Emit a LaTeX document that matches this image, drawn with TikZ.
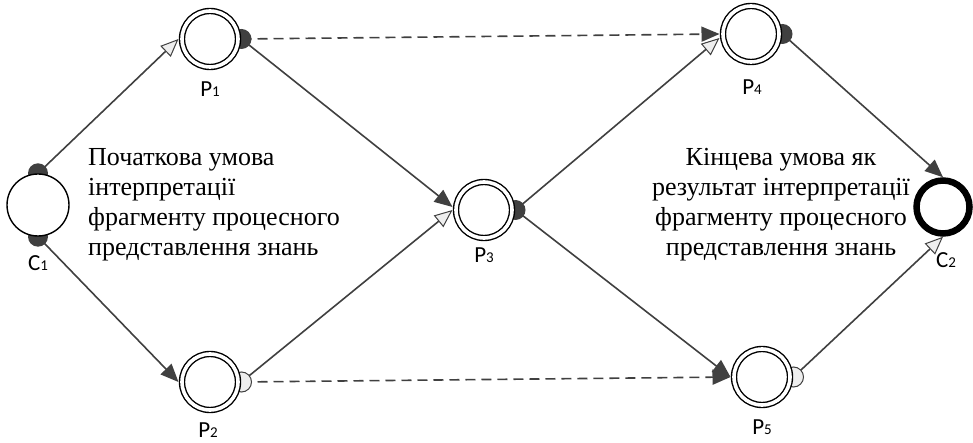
\documentclass[tikz,border=0pt]{standalone}
\usepackage{fontspec}
\setmainfont{Liberation Serif}
\newfontfamily\labfont{Carlito}
\usetikzlibrary{arrows.meta,backgrounds}
\definecolor{dk}{HTML}{404040}
\definecolor{lt}{HTML}{EEEEEE}
\newcommand\lsub[1]{{\fontsize{15}{15}\selectfont #1}}
\begin{document}
\begin{tikzpicture}[x=1pt,y=-1pt,
  place/.style={circle,draw=black,line width=1.4pt,double=white,double distance=3.6pt,minimum size=56pt,inner sep=0pt,outer sep=3.5pt,fill=white},
  cond/.style={circle,draw=black,line width=1.4pt,minimum size=62pt,inner sep=0pt,fill=white},
  fincond/.style={circle,draw=black,line width=6.5pt,minimum size=53pt,inner sep=0pt,fill=white},
  conn/.style={draw=dk,line width=1.6pt},
  dashconn/.style={conn,dash pattern=on 10pt off 6pt},
  darktip/.style={-{Triangle[length=18pt,width=15pt,fill=dk]}},
  lighttip/.style={-{Triangle[length=18pt,width=15pt,fill=lt,line width=1pt]}},
  darkblob/.style={fill=dk},
  lightblob/.style={fill=lt,draw=dk,line width=1pt},
  lab/.style={font=\labfont\fontsize{23}{23}\selectfont,inner sep=0pt},
  txt/.style={font=\fontsize{26}{30}\selectfont,inner sep=0pt}
]
\useasboundingbox (0,0) rectangle (973,443);

% nodes
\node[cond] (C1) at (38,205) {};
\node[place] (P1) at (210,39) {};
\node[place] (P2) at (210,382) {};
\node[place] (P3) at (484,210) {};
\node[place] (P4) at (751,34) {};
\node[place] (P5) at (762,377) {};
\node[fincond] (C2) at (943,207) {};

% labels
\node[lab] (lC1) at (38,263) {C\lsub{1}};
\node[lab] (lP1) at (210,89) {P\lsub{1}};
\node[lab] (lP2) at (208,430) {P\lsub{2}};
\node[lab] (lP3) at (484,255) {P\lsub{3}};
\node[lab] (lP4) at (752,87) {P\lsub{4}};
\node[lab] (lP5) at (762,427) {P\lsub{5}};
\node[lab] (lC2) at (946,260) {C\lsub{2}};

% texts
\node[txt,anchor=west,align=left] (tL) at (88,205)
  {Початкова умова\\інтерпретації\\фрагменту процесного\\представлення знань};
\node[txt,align=center] (tR) at (781,205)
  {Кінцева умова як\\результат інтерпретації\\фрагменту процесного\\представлення знань};

\begin{pgfonlayer}{background}
  \fill[white] (0,0) rectangle (973,443);
  % connectors
  \draw[conn,lighttip] (C1.north) -- (P1.west);
  \draw[conn,darktip] (C1.south) -- (P2.west);
  \draw[dashconn,darktip] (P1.east) -- (P4.west);
  \draw[conn,darktip] (P1.east) -- ([yshift=3pt]P3.west);
  \draw[conn,lighttip] (P2.east) -- (P3.west);
  \draw[dashconn,darktip] (P2.east) -- (P5.west);
  \draw[conn,lighttip] (P3.east) -- ([yshift=-4pt]P4.west);
  \draw[conn,darktip] (P3.east) -- (P5.west);
  \draw[conn,darktip] (P4.east) -- (C2.north);
  \draw[conn,lighttip] (P5.east) -- (C2.south);
  % blobs
  \fill[darkblob] (C1.north) circle (10pt);
  \fill[darkblob] (C1.south) circle (10pt);
  \fill[darkblob] (P1.east) circle (10pt);
  \filldraw[lightblob] (P2.east) circle (10pt);
  \fill[darkblob] (P3.east) circle (10pt);
  \fill[darkblob] (P4.east) circle (10pt);
  \filldraw[lightblob] (P5.east) circle (10pt);
\end{pgfonlayer}
\end{tikzpicture}
\end{document}
